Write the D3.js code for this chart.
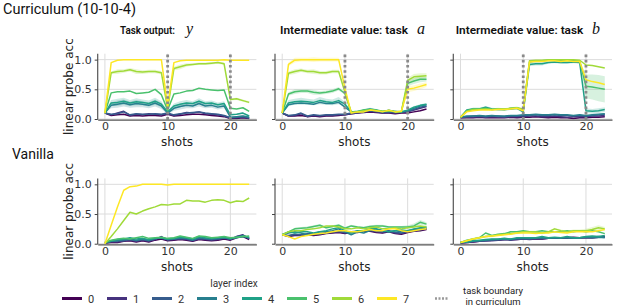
<!DOCTYPE html>
<html><head><meta charset="utf-8">
<script src="https://cdn.jsdelivr.net/npm/d3@7"></script>
<style>body{margin:0;background:#fff}svg{display:block}</style>
</head><body>
<svg id="c" width="640" height="307"></svg>
<script>
// ---------- data ----------
const shots = [0,1,2,3,4,5,6,7,8,9,10,11,12,13,14,15,16,17,18,19,20,21,22,23];
const layers = ["0","1","2","3","4","5","6","7"];
const layerColors = ["#440154","#46327e","#365c8d","#277f8e","#1fa187","#4ac16d","#a0da39","#fde725"];
const xTickValues = [0,10,20];
const yTickValues = [0,0.5,1.0];
const yTickLabels = ["0.0","0.5","1.0"];
const taskBoundaries = [10,20];
const rowTitles = ["Curriculum (10-10-4)","Vanilla"];
const panelTitles = ["Task output:","Intermediate value: task","Intermediate value: task"];
const panelMath = ["y","a","b"];

// curriculum, task output y (layers 0..7)
const curY = [
 [0.10,0.06,0.07,0.08,0.05,0.06,0.05,0.06,0.06,0.05,0.08,0.05,0.06,0.07,0.08,0.08,0.07,0.06,0.05,0.04,0.01,0.01,0.02,0.01],
 [0.10,0.07,0.10,0.13,0.06,0.08,0.07,0.09,0.08,0.07,0.09,0.06,0.08,0.11,0.10,0.12,0.09,0.08,0.07,0.05,0.02,0.02,0.03,0.01],
 [0.10,0.08,0.09,0.12,0.07,0.09,0.08,0.08,0.09,0.08,0.10,0.07,0.09,0.10,0.11,0.12,0.10,0.09,0.08,0.06,0.02,0.03,0.04,0.02],
 [0.10,0.23,0.25,0.27,0.24,0.26,0.25,0.23,0.27,0.22,0.10,0.18,0.21,0.23,0.22,0.26,0.22,0.23,0.20,0.22,0.03,0.04,0.05,0.03],
 [0.10,0.27,0.28,0.30,0.27,0.29,0.28,0.26,0.30,0.25,0.12,0.22,0.25,0.27,0.26,0.30,0.26,0.27,0.24,0.26,0.07,0.08,0.10,0.05],
 [0.10,0.44,0.46,0.46,0.47,0.43,0.44,0.45,0.50,0.41,0.15,0.42,0.44,0.47,0.48,0.52,0.50,0.49,0.48,0.49,0.18,0.17,0.19,0.13],
 [0.10,0.78,0.80,0.81,0.83,0.80,0.79,0.80,0.80,0.78,0.17,0.85,0.88,0.91,0.92,0.93,0.93,0.94,0.95,0.93,0.33,0.34,0.31,0.28],
 [0.10,0.95,0.99,1.00,1.00,1.00,1.00,1.00,1.00,1.00,0.22,0.95,0.98,0.99,0.99,0.99,0.99,0.99,0.99,1.00,0.99,0.99,0.99,0.99]
];
// curriculum, intermediate value a
const curA = [
 [0.10,0.05,0.05,0.06,0.04,0.05,0.04,0.05,0.05,0.06,0.07,0.09,0.10,0.11,0.12,0.11,0.10,0.10,0.09,0.10,0.10,0.12,0.14,0.17],
 [0.10,0.05,0.06,0.09,0.04,0.06,0.05,0.06,0.06,0.07,0.07,0.09,0.10,0.12,0.13,0.12,0.10,0.11,0.10,0.11,0.12,0.15,0.18,0.21],
 [0.10,0.06,0.07,0.10,0.05,0.07,0.06,0.07,0.07,0.08,0.08,0.10,0.11,0.12,0.14,0.13,0.11,0.12,0.11,0.12,0.13,0.16,0.20,0.22],
 [0.10,0.24,0.26,0.27,0.26,0.25,0.28,0.26,0.26,0.28,0.20,0.12,0.12,0.14,0.16,0.14,0.12,0.14,0.12,0.12,0.14,0.18,0.22,0.24],
 [0.10,0.27,0.29,0.30,0.29,0.28,0.31,0.29,0.28,0.31,0.25,0.12,0.12,0.15,0.17,0.15,0.12,0.15,0.12,0.12,0.15,0.20,0.23,0.25],
 [0.10,0.42,0.46,0.47,0.47,0.45,0.44,0.45,0.47,0.51,0.43,0.12,0.13,0.15,0.16,0.15,0.13,0.14,0.13,0.12,0.60,0.64,0.67,0.67],
 [0.10,0.77,0.80,0.82,0.80,0.80,0.78,0.78,0.80,0.80,0.45,0.11,0.12,0.14,0.15,0.14,0.13,0.14,0.12,0.13,0.65,0.71,0.72,0.73],
 [0.10,0.92,0.99,1.00,1.00,1.00,1.00,1.00,1.00,1.00,0.52,0.10,0.12,0.12,0.15,0.14,0.12,0.15,0.12,0.13,0.50,0.52,0.55,0.58]
];
// curriculum, intermediate value b
const curB = [
 [0.02,0.02,0.02,0.03,0.02,0.02,0.02,0.02,0.03,0.02,0.03,0.03,0.04,0.03,0.02,0.03,0.02,0.02,0.01,0.02,0.02,0.03,0.03,0.04],
 [0.02,0.03,0.03,0.04,0.03,0.04,0.03,0.03,0.04,0.04,0.04,0.05,0.05,0.04,0.04,0.05,0.04,0.03,0.04,0.04,0.04,0.05,0.05,0.06],
 [0.03,0.04,0.05,0.05,0.04,0.05,0.05,0.04,0.05,0.05,0.06,0.06,0.07,0.06,0.06,0.07,0.06,0.06,0.05,0.06,0.05,0.06,0.07,0.08],
 [0.03,0.05,0.05,0.06,0.05,0.06,0.05,0.05,0.06,0.06,0.07,0.07,0.08,0.07,0.07,0.08,0.07,0.07,0.06,0.07,0.06,0.07,0.08,0.09],
 [0.03,0.15,0.17,0.17,0.20,0.17,0.16,0.16,0.17,0.18,0.12,0.92,0.93,0.93,0.95,0.96,0.95,0.95,0.96,0.95,0.14,0.13,0.14,0.16],
 [0.03,0.14,0.17,0.17,0.18,0.16,0.17,0.16,0.18,0.19,0.15,0.96,0.98,0.98,0.99,0.99,0.98,0.99,0.98,0.98,0.55,0.54,0.52,0.50],
 [0.03,0.13,0.16,0.16,0.17,0.16,0.17,0.17,0.18,0.19,0.17,0.98,0.99,0.99,1.00,1.00,1.00,1.00,1.00,0.99,0.91,0.90,0.88,0.86],
 [0.03,0.12,0.14,0.15,0.15,0.15,0.16,0.16,0.17,0.18,0.14,0.96,0.97,0.97,0.98,0.98,0.97,0.98,0.97,0.97,0.66,0.63,0.61,0.58]
];
// vanilla, task output y
const vanY = [
 [0.01,0.02,0.02,0.04,0.05,0.03,0.05,0.03,0.06,0.08,0.05,0.06,0.07,0.06,0.04,0.07,0.06,0.05,0.06,0.08,0.06,0.10,0.12,0.07],
 [0.01,0.03,0.03,0.05,0.06,0.04,0.06,0.04,0.07,0.12,0.06,0.07,0.08,0.07,0.05,0.08,0.07,0.06,0.07,0.09,0.07,0.12,0.15,0.08],
 [0.01,0.04,0.05,0.05,0.07,0.05,0.07,0.05,0.08,0.11,0.07,0.08,0.09,0.08,0.06,0.09,0.08,0.07,0.08,0.10,0.08,0.12,0.14,0.09],
 [0.02,0.04,0.05,0.07,0.08,0.06,0.08,0.06,0.09,0.09,0.07,0.08,0.10,0.09,0.06,0.10,0.09,0.08,0.09,0.10,0.08,0.11,0.12,0.10],
 [0.02,0.05,0.07,0.08,0.10,0.08,0.09,0.07,0.09,0.10,0.08,0.09,0.11,0.10,0.08,0.12,0.10,0.09,0.10,0.11,0.09,0.10,0.13,0.11],
 [0.02,0.06,0.08,0.09,0.08,0.10,0.12,0.09,0.10,0.11,0.09,0.10,0.13,0.11,0.09,0.13,0.12,0.10,0.11,0.12,0.10,0.11,0.12,0.13],
 [0.00,0.12,0.25,0.39,0.53,0.50,0.55,0.59,0.62,0.66,0.65,0.67,0.67,0.73,0.72,0.72,0.70,0.73,0.74,0.73,0.69,0.72,0.71,0.77],
 [0.00,0.31,0.62,0.90,0.96,0.97,1.00,1.00,1.00,1.00,0.99,1.00,1.00,1.00,1.00,1.00,1.00,1.00,1.00,1.00,1.00,1.00,1.00,1.00]
];
// vanilla, intermediate value a
const vanA = [
 [0.15,0.12,0.14,0.14,0.15,0.14,0.15,0.17,0.18,0.19,0.17,0.19,0.19,0.21,0.21,0.19,0.18,0.20,0.17,0.16,0.19,0.21,0.22,0.24],
 [0.15,0.13,0.15,0.14,0.16,0.15,0.16,0.18,0.19,0.20,0.18,0.20,0.20,0.22,0.22,0.20,0.19,0.21,0.18,0.17,0.20,0.22,0.23,0.25],
 [0.15,0.14,0.16,0.15,0.17,0.16,0.17,0.18,0.20,0.21,0.19,0.20,0.21,0.22,0.23,0.21,0.20,0.22,0.19,0.18,0.21,0.22,0.24,0.25],
 [0.15,0.18,0.20,0.18,0.15,0.17,0.20,0.20,0.22,0.25,0.20,0.15,0.20,0.18,0.22,0.25,0.22,0.20,0.22,0.20,0.22,0.24,0.25,0.27],
 [0.15,0.20,0.18,0.20,0.20,0.18,0.20,0.22,0.25,0.27,0.22,0.18,0.22,0.22,0.25,0.25,0.22,0.20,0.22,0.23,0.22,0.25,0.27,0.28],
 [0.15,0.20,0.25,0.26,0.27,0.29,0.31,0.27,0.29,0.31,0.26,0.30,0.28,0.27,0.29,0.30,0.30,0.28,0.28,0.28,0.28,0.30,0.36,0.33],
 [0.15,0.20,0.22,0.22,0.24,0.25,0.27,0.30,0.30,0.28,0.25,0.25,0.27,0.25,0.27,0.28,0.25,0.25,0.27,0.25,0.27,0.28,0.30,0.28],
 [0.15,0.12,0.08,0.12,0.14,0.16,0.17,0.18,0.20,0.22,0.22,0.20,0.20,0.22,0.24,0.22,0.22,0.25,0.25,0.22,0.20,0.22,0.24,0.25]
];
// vanilla, intermediate value b
const vanB = [
 [0.01,0.02,0.03,0.04,0.05,0.06,0.06,0.07,0.07,0.07,0.08,0.08,0.08,0.08,0.09,0.10,0.09,0.10,0.11,0.10,0.10,0.10,0.11,0.12],
 [0.01,0.02,0.03,0.04,0.05,0.05,0.06,0.07,0.06,0.07,0.08,0.07,0.08,0.08,0.09,0.09,0.09,0.09,0.10,0.10,0.10,0.10,0.11,0.11],
 [0.02,0.03,0.04,0.05,0.05,0.06,0.07,0.07,0.07,0.08,0.08,0.08,0.09,0.09,0.09,0.10,0.09,0.10,0.10,0.10,0.11,0.11,0.12,0.11],
 [0.02,0.03,0.04,0.05,0.06,0.07,0.07,0.08,0.07,0.09,0.10,0.09,0.09,0.10,0.09,0.10,0.10,0.10,0.09,0.10,0.11,0.10,0.11,0.10],
 [0.02,0.03,0.05,0.06,0.07,0.08,0.08,0.09,0.08,0.10,0.10,0.10,0.10,0.12,0.10,0.11,0.10,0.12,0.10,0.10,0.12,0.13,0.12,0.14],
 [0.02,0.06,0.08,0.10,0.18,0.14,0.16,0.17,0.20,0.20,0.22,0.20,0.20,0.22,0.20,0.20,0.20,0.22,0.20,0.22,0.20,0.22,0.20,0.17],
 [0.02,0.05,0.08,0.10,0.12,0.13,0.15,0.16,0.17,0.18,0.20,0.20,0.20,0.18,0.20,0.25,0.22,0.20,0.22,0.22,0.22,0.24,0.27,0.25],
 [0.02,0.05,0.08,0.10,0.12,0.13,0.14,0.15,0.16,0.18,0.18,0.18,0.17,0.18,0.18,0.20,0.19,0.18,0.20,0.20,0.20,0.20,0.22,0.24]
];
// confidence band half-widths for a few visible series
const bandCurY6 = [0,0.02,0.04,0.03,0.03,0.04,0.03,0.03,0.03,0.03,0.02,0.03,0.04,0.03,0.02,0.02,0.02,0.02,0.02,0.02,0.02,0.02,0.02,0.02];
const bandCurY4 = [0,0.05,0.06,0.06,0.05,0.06,0.05,0.05,0.06,0.05,0.02,0.04,0.05,0.05,0.04,0.05,0.04,0.04,0.04,0.04,0.01,0.01,0.02,0.01];
const bandCurA6 = [0,0.03,0.04,0.03,0.03,0.04,0.03,0.03,0.03,0.03,0.02,0.01,0.01,0.01,0.01,0.01,0.01,0.01,0.01,0.01,0.05,0.05,0.05,0.04];
const bandCurA4 = [0,0.05,0.05,0.06,0.05,0.05,0.06,0.05,0.05,0.06,0.04,0.01,0.01,0.02,0.02,0.02,0.01,0.02,0.01,0.01,0.02,0.02,0.02,0.02];
const bandCurB5 = [0,0.01,0.02,0.02,0.02,0.02,0.02,0.02,0.02,0.02,0.02,0.02,0.01,0.01,0.01,0.01,0.01,0.01,0.01,0.01,0.20,0.21,0.22,0.22];
const bandCurB4 = [0,0.02,0.02,0.02,0.02,0.02,0.02,0.02,0.02,0.02,0.02,0.03,0.03,0.03,0.02,0.02,0.02,0.02,0.02,0.02,0.04,0.04,0.04,0.04];
const bandVanA5 = [0,0.01,0.02,0.02,0.02,0.02,0.02,0.02,0.02,0.02,0.02,0.02,0.02,0.02,0.02,0.02,0.02,0.02,0.02,0.02,0.03,0.04,0.04,0.03];

// ---------- layout ----------
const svg = d3.select("#c");
const colX = [[97.7,256.4],[275,433.7],[453.3,612]];
const rowY = [[119.6,53.7],[244.3,178.4]];
const xDomain = [-1.15,24.15];
const yDomain = [-0.01,1.1];
const sans = "'DejaVu Sans', sans-serif";
const ui = "Roboto, 'DejaVu Sans', sans-serif";

const panels = [
 {r:0,c:0,data:curY,bands:[[6,bandCurY6],[4,bandCurY4],[3,bandCurY4]]},
 {r:0,c:1,data:curA,bands:[[6,bandCurA6],[5,bandCurA6],[7,bandCurA6],[4,bandCurA4]]},
 {r:0,c:2,data:curB,bands:[[5,bandCurB5],[4,bandCurB4]]},
 {r:1,c:0,data:vanY,bands:[]},
 {r:1,c:1,data:vanA,bands:[[5,bandVanA5]]},
 {r:1,c:2,data:vanB,bands:[[6,bandVanA5]]}
];

panels.forEach((p,i)=>{
  const x = d3.scaleLinear().domain(xDomain).range(colX[p.c]);
  const y = d3.scaleLinear().domain(yDomain).range(rowY[p.r]);
  const g = svg.append("g");
  const cid = "clip"+i;
  svg.append("clipPath").attr("id",cid).append("rect")
    .attr("x",colX[p.c][0]).attr("y",rowY[p.r][1])
    .attr("width",colX[p.c][1]-colX[p.c][0]).attr("height",rowY[p.r][0]-rowY[p.r][1]);
  // grid
  g.selectAll(".gx").data(xTickValues).join("line")
    .attr("x1",d=>x(d)).attr("x2",d=>x(d)).attr("y1",rowY[p.r][0]).attr("y2",rowY[p.r][1])
    .attr("stroke","#dcdcdc").attr("stroke-width",1);
  g.selectAll(".gy").data(yTickValues).join("line")
    .attr("x1",colX[p.c][0]).attr("x2",colX[p.c][1]).attr("y1",d=>y(d)).attr("y2",d=>y(d))
    .attr("stroke","#dcdcdc").attr("stroke-width",1);
  const pg = g.append("g").attr("clip-path",`url(#${cid})`);
  // bands
  const area = d3.area().x((d,j)=>x(shots[j])).y0(d=>y(d[0])).y1(d=>y(d[1]));
  p.bands.forEach(([li,hw])=>{
    const vals = p.data[li].map((v,j)=>[v-hw[j],v+hw[j]]);
    pg.append("path").attr("d",area(vals)).attr("fill",layerColors[li]).attr("opacity",0.22);
  });
  // lines
  const line = d3.line().x((d,j)=>x(shots[j])).y(d=>y(d));
  p.data.forEach((s,li)=>{
    pg.append("path").attr("d",line(s)).attr("fill","none")
      .attr("stroke",layerColors[li]).attr("stroke-width",1.5).attr("stroke-linejoin","round");
  });
  // task boundaries (curriculum row)
  if(p.r===0){
    g.selectAll(".tb").data(taskBoundaries).join("line")
      .attr("x1",d=>x(d)).attr("x2",d=>x(d)).attr("y1",rowY[p.r][0]).attr("y2",rowY[p.r][1])
      .attr("stroke","#8a8a8a").attr("stroke-width",2.8).attr("stroke-dasharray","2.6,2.6");
  }
  // axes
  const ax = d3.axisBottom(x).tickValues(xTickValues).tickSize(0).tickPadding(3).tickFormat(d3.format("d"));
  const axg = svg.append("g").attr("transform",`translate(0,${rowY[p.r][0]})`).call(ax);
  axg.select(".domain").attr("stroke","#555").attr("stroke-width",1.2);
  axg.selectAll("text").attr("font-family",sans).attr("font-size",11).attr("fill","#333");
  const ay = d3.axisLeft(y).tickValues(yTickValues).tickSize(3).tickPadding(3)
     .tickFormat((d,j)=> p.c===0 ? yTickLabels[j] : "");
  const ayg = svg.append("g").attr("transform",`translate(${colX[p.c][0]},0)`).call(ay);
  ayg.select(".domain").attr("stroke","#555").attr("stroke-width",1.2).attr("d",`M0,${rowY[p.r][0]}V${rowY[p.r][1]}`);
  ayg.selectAll(".tick line").attr("stroke","#444");
  ayg.selectAll("text").attr("font-family",sans).attr("font-size",11).attr("fill","#333");
  // x label
  svg.append("text").attr("x",(x(0)+x(23))/2).attr("y",rowY[p.r][0]+26.5)
    .attr("text-anchor","middle").attr("font-family",sans).attr("font-size",12).attr("fill","#222").text("shots");
  if(p.c===0){
    const cy = (rowY[p.r][0]+rowY[p.r][1])/2;
    svg.append("text").attr("transform",`translate(73,${cy}) rotate(-90)`)
      .attr("text-anchor","middle").attr("font-family",sans).attr("font-size",12).attr("fill","#222")
      .text("linear probe acc");
  }
});

// row titles
svg.append("text").attr("x",3).attr("y",14).attr("font-family",ui).attr("font-size",14.5).attr("fill","#111").text(rowTitles[0]);
svg.append("text").attr("x",12).attr("y",159).attr("font-family",ui).attr("font-size",14).attr("fill","#111").text(rowTitles[1]);

// panel titles
const titleX = [120,280,455.7];
const titleW = [55,128,127.6];
const mathX = [186,417,592];
panelTitles.forEach((t,i)=>{
  svg.append("text").attr("x",titleX[i]).attr("y",34).attr("font-family",ui).attr("font-weight",600)
    .attr("font-size",11).attr("fill","#111")
    .attr("textLength",titleW[i]).attr("lengthAdjust","spacingAndGlyphs").text(t);
  svg.append("text").attr("x",mathX[i]).attr("y",34).attr("font-family","'Liberation Serif','DejaVu Serif',serif")
    .attr("font-style","italic").attr("font-size",16).attr("fill","#111").text(panelMath[i]);
});

// legend
const lx = d3.scaleBand().domain(layers).range([62,62+45*8]);
const lg = svg.append("g");
lg.append("text").attr("x",234).attr("y",287).attr("text-anchor","middle").attr("font-family",ui)
  .attr("font-size",10).attr("fill","#333").text("layer index");
layers.forEach((l,i)=>{
  lg.append("line").attr("x1",lx(l)).attr("x2",lx(l)+20).attr("y1",298.5).attr("y2",298.5)
    .attr("stroke",layerColors[i]).attr("stroke-width",3);
  lg.append("text").attr("x",lx(l)+26).attr("y",302.5).attr("font-family",ui).attr("font-size",11)
    .attr("fill","#333").text(l);
});
lg.append("line").attr("x1",435).attr("x2",448).attr("y1",298.5).attr("y2",298.5)
  .attr("stroke","#999").attr("stroke-width",2.5).attr("stroke-dasharray","2,1.5");
lg.append("text").attr("x",493).attr("y",294).attr("text-anchor","middle").attr("font-family",ui)
  .attr("font-size",9.5).attr("fill","#222").text("task boundary");
lg.append("text").attr("x",493).attr("y",305).attr("text-anchor","middle").attr("font-family",ui)
  .attr("font-size",9.5).attr("fill","#222").text("in curriculum");
</script>
</body></html>
